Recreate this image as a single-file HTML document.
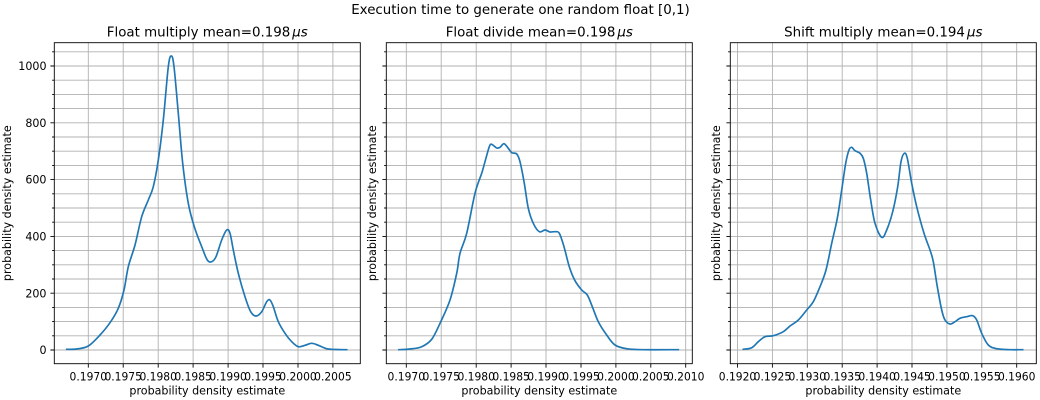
<!DOCTYPE html>
<html><head><meta charset="utf-8"><style>
html,body{margin:0;padding:0;background:#fff;}
svg{display:block;font-family:"DejaVu Sans","Liberation Sans",sans-serif;}
</style></head><body>
<svg id="fig" width="1040" height="400" viewBox="0 0 1040 400" xmlns="http://www.w3.org/2000/svg">
<defs>
<g id="hg" stroke="#b0b0b0" stroke-width="0.89" fill="none">
<path d="M0 350h306M0 335.8h306M0 321.6h306M0 307.4h306M0 293.2h306M0 279h306M0 264.8h306M0 250.6h306M0 236.4h306M0 222.2h306M0 208h306M0 193.8h306M0 179.6h306M0 165.4h306M0 151.2h306M0 137h306M0 122.8h306M0 108.6h306M0 94.4h306M0 80.2h306M0 66h306M0 51.8h306"/>
</g>
<g id="yt" stroke="#000" stroke-width="0.89" fill="none">
<path d="M0 350h-3.9M0 293.2h-3.9M0 236.4h-3.9M0 179.6h-3.9M0 122.8h-3.9M0 66h-3.9"/>
<path d="M0 335.8h-2.2M0 321.6h-2.2M0 307.4h-2.2M0 279h-2.2M0 264.8h-2.2M0 250.6h-2.2M0 222.2h-2.2M0 208h-2.2M0 193.8h-2.2M0 165.4h-2.2M0 151.2h-2.2M0 137h-2.2M0 108.6h-2.2M0 94.4h-2.2M0 80.2h-2.2M0 51.8h-2.2"/>
</g>
</defs>
<rect width="1040" height="400" fill="#fff"/>

<!-- titles -->
<text x="520.5" y="14.1" font-size="13.4" text-anchor="middle">Execution time to generate one random float [0,1)</text>
<text x="207.3" y="36.3" font-size="13.4" text-anchor="middle">Float multiply mean=0.198<tspan font-style="italic" dx="2">μs</tspan></text>
<text x="539.3" y="36.3" font-size="13.4" text-anchor="middle">Float divide mean=0.198<tspan font-style="italic" dx="2">μs</tspan></text>
<text x="883.3" y="36.3" font-size="13.4" text-anchor="middle">Shift multiply mean=0.194<tspan font-style="italic" dx="2">μs</tspan></text>

<!-- Panel 1 -->
<use href="#hg" x="54.3" y="0"/>
<path d="M88.3 42.7V363.7M123.2 42.7V363.7M158.2 42.7V363.7M193.1 42.7V363.7M228.1 42.7V363.7M263 42.7V363.7M298 42.7V363.7M332.9 42.7V363.7" stroke="#b0b0b0" stroke-width="0.89" fill="none"/>
<polyline class="c" fill="none" stroke="#1f77b4" stroke-width="1.67" stroke-linejoin="round" stroke-linecap="square" points="66.7,349.3 76.7,349 88.3,346 100,335 110,322.7 118.3,308.3 124,290 128.3,266.7 135,245 141.7,216.7 148.3,200 153.3,186.7 158.3,160 163.3,120 168.3,66.7 171.3,56 174,66.7 178.3,113.3 182.7,163.3 188.3,203.3 194.3,226.7 201.7,246.7 207.3,260 211.7,261.7 216,256.7 221.7,240 226.7,230 230,233.3 233.3,250 238.3,273.3 245,296.7 250.7,311.7 256,316 261.7,311.7 266.7,301.7 270,300 273.3,306.7 278.3,321.7 285,333.3 291.7,341.7 298.3,346.7 305,345.3 311.7,343.3 318.3,345.3 326.7,348.7 336,349.5 346.7,349.7"/>
<rect x="54.3" y="42.7" width="306" height="321" fill="none" stroke="#000" stroke-width="0.89"/>
<use href="#yt" x="54.3" y="0"/>
<path d="M88.3 363.7v3.9M123.2 363.7v3.9M158.2 363.7v3.9M193.1 363.7v3.9M228.1 363.7v3.9M263 363.7v3.9M298 363.7v3.9M332.9 363.7v3.9" stroke="#000" stroke-width="0.89"/>
<g font-size="11.1" text-anchor="end">
<text x="46.5" y="354.05">0</text>
<text x="46.5" y="297.25">200</text>
<text x="46.5" y="240.45">400</text>
<text x="46.5" y="183.65">600</text>
<text x="46.5" y="126.85">800</text>
<text x="46.5" y="70.05">1000</text>
</g>
<g font-size="11.1" text-anchor="middle">
<text x="88.3" y="380.5" textLength="37.5" lengthAdjust="spacingAndGlyphs">0.1970</text>
<text x="123.2" y="380.5" textLength="37.5" lengthAdjust="spacingAndGlyphs">0.1975</text>
<text x="158.2" y="380.5" textLength="37.5" lengthAdjust="spacingAndGlyphs">0.1980</text>
<text x="193.1" y="380.5" textLength="37.5" lengthAdjust="spacingAndGlyphs">0.1985</text>
<text x="228.1" y="380.5" textLength="37.5" lengthAdjust="spacingAndGlyphs">0.1990</text>
<text x="263" y="380.5" textLength="37.5" lengthAdjust="spacingAndGlyphs">0.1995</text>
<text x="298" y="380.5" textLength="37.5" lengthAdjust="spacingAndGlyphs">0.2000</text>
<text x="332.9" y="380.5" textLength="37.5" lengthAdjust="spacingAndGlyphs">0.2005</text>
<text x="207.3" y="394.5">probability density estimate</text>
<text transform="translate(10.8,203.2) rotate(-90)">probability density estimate</text>
</g>

<!-- Panel 2 -->
<use href="#hg" x="386.3" y="0"/>
<path d="M406.3 42.7V363.7M441.2 42.7V363.7M476.2 42.7V363.7M511.1 42.7V363.7M546 42.7V363.7M581 42.7V363.7M615.9 42.7V363.7M650.8 42.7V363.7M685.7 42.7V363.7" stroke="#b0b0b0" stroke-width="0.89" fill="none"/>
<polyline class="c" fill="none" stroke="#1f77b4" stroke-width="1.67" stroke-linejoin="round" stroke-linecap="square" points="399,349.7 410,349 421.7,346.7 431.7,339.3 440,323.3 450,300 456.7,273.3 460,253.3 466.7,233.3 475,193.3 481.7,173.3 485,161.7 489.3,146.7 491.7,144.3 496.7,148 500,147.3 504,143.7 508.3,148.3 511.7,152.7 516.7,154 520,161.7 524.3,183.3 528.3,208.3 533.3,223.3 539.3,231.7 545,230 550,232 555,231.7 559.3,233.3 564,246.7 569.3,266.7 575,280.7 581.7,290 587.3,295 592.3,306.7 598.3,321.7 606.7,335 615,345 626.7,348.7 643.3,349.7 678.3,349.7"/>
<rect x="386.3" y="42.7" width="306" height="321" fill="none" stroke="#000" stroke-width="0.89"/>
<use href="#yt" x="386.3" y="0"/>
<path d="M406.3 363.7v3.9M441.2 363.7v3.9M476.2 363.7v3.9M511.1 363.7v3.9M546 363.7v3.9M581 363.7v3.9M615.9 363.7v3.9M650.8 363.7v3.9M685.7 363.7v3.9" stroke="#000" stroke-width="0.89"/>
<g font-size="11.1" text-anchor="middle">
<text x="406.3" y="380.5" textLength="37.5" lengthAdjust="spacingAndGlyphs">0.1970</text>
<text x="441.2" y="380.5" textLength="37.5" lengthAdjust="spacingAndGlyphs">0.1975</text>
<text x="476.2" y="380.5" textLength="37.5" lengthAdjust="spacingAndGlyphs">0.1980</text>
<text x="511.1" y="380.5" textLength="37.5" lengthAdjust="spacingAndGlyphs">0.1985</text>
<text x="546" y="380.5" textLength="37.5" lengthAdjust="spacingAndGlyphs">0.1990</text>
<text x="581" y="380.5" textLength="37.5" lengthAdjust="spacingAndGlyphs">0.1995</text>
<text x="615.9" y="380.5" textLength="37.5" lengthAdjust="spacingAndGlyphs">0.2000</text>
<text x="650.8" y="380.5" textLength="37.5" lengthAdjust="spacingAndGlyphs">0.2005</text>
<text x="685.7" y="380.5" textLength="37.5" lengthAdjust="spacingAndGlyphs">0.2010</text>
<text x="539.3" y="394.5">probability density estimate</text>
<text transform="translate(375.8,203.2) rotate(-90)">probability density estimate</text>
</g>

<!-- Panel 3 -->
<use href="#hg" x="730.3" y="0"/>
<path d="M737.5 42.7V363.7M772.4 42.7V363.7M807.3 42.7V363.7M842.2 42.7V363.7M877.1 42.7V363.7M912 42.7V363.7M946.9 42.7V363.7M981.8 42.7V363.7M1016.7 42.7V363.7" stroke="#b0b0b0" stroke-width="0.89" fill="none"/>
<polyline class="c" fill="none" stroke="#1f77b4" stroke-width="1.67" stroke-linejoin="round" stroke-linecap="square" points="743.3,349.3 751.7,347.7 758.3,341.7 765,336.7 773.3,335.7 783.3,331.7 790,326 798.3,320 806.7,310 813.3,301.7 820,286.7 826,270 831.7,243.3 837.3,218.3 841.7,190 845.7,163.3 849,150 851.7,147.3 855,150.7 860,153.3 863.3,158.3 866.7,173.3 870.7,200 875,223.3 881.7,237.3 886.7,230 892.7,211.7 897.7,186.7 901,161.7 904.3,153.3 907.3,158.3 911.7,183.3 916.7,206.7 924,233.3 930,250 933.3,261.7 937.3,286.7 941.7,310 945,320 950,324 955,321.7 960,318.3 966.7,316.7 972.7,315.7 976.7,320 981.7,333.3 988.3,345 996.7,348.7 1010,349.7 1022.7,349.7"/>
<rect x="730.3" y="42.7" width="306" height="321" fill="none" stroke="#000" stroke-width="0.89"/>
<use href="#yt" x="730.3" y="0"/>
<path d="M737.5 363.7v3.9M772.4 363.7v3.9M807.3 363.7v3.9M842.2 363.7v3.9M877.1 363.7v3.9M912 363.7v3.9M946.9 363.7v3.9M981.8 363.7v3.9M1016.7 363.7v3.9" stroke="#000" stroke-width="0.89"/>
<g font-size="11.1" text-anchor="middle">
<text x="737.5" y="380.5" textLength="37.5" lengthAdjust="spacingAndGlyphs">0.1920</text>
<text x="772.4" y="380.5" textLength="37.5" lengthAdjust="spacingAndGlyphs">0.1925</text>
<text x="807.3" y="380.5" textLength="37.5" lengthAdjust="spacingAndGlyphs">0.1930</text>
<text x="842.2" y="380.5" textLength="37.5" lengthAdjust="spacingAndGlyphs">0.1935</text>
<text x="877.1" y="380.5" textLength="37.5" lengthAdjust="spacingAndGlyphs">0.1940</text>
<text x="912" y="380.5" textLength="37.5" lengthAdjust="spacingAndGlyphs">0.1945</text>
<text x="946.9" y="380.5" textLength="37.5" lengthAdjust="spacingAndGlyphs">0.1950</text>
<text x="981.8" y="380.5" textLength="37.5" lengthAdjust="spacingAndGlyphs">0.1955</text>
<text x="1016.7" y="380.5" textLength="37.5" lengthAdjust="spacingAndGlyphs">0.1960</text>
<text x="883.3" y="394.5">probability density estimate</text>
<text transform="translate(719.8,203.2) rotate(-90)">probability density estimate</text>
</g>
</svg>
<script>
(function(){
  var ns="http://www.w3.org/2000/svg";
  var pls=document.querySelectorAll("polyline.c");
  for(var k=0;k<pls.length;k++){
    var pl=pls[k];
    var pts=pl.getAttribute("points").trim().split(/\s+/).map(function(p){return p.split(",").map(Number);});
    var n=pts.length;
    var d="M"+pts[0][0]+","+pts[0][1];
    for(var i=0;i<n-1;i++){
      var p0=pts[i>0?i-1:i],p1=pts[i],p2=pts[i+1],p3=pts[i+2<n?i+2:i+1];
      var c1x=p1[0]+(p2[0]-p0[0])/6,c1y=p1[1]+(p2[1]-p0[1])/6;
      var c2x=p2[0]-(p3[0]-p1[0])/6,c2y=p2[1]-(p3[1]-p1[1])/6;
      d+="C"+c1x.toFixed(2)+","+c1y.toFixed(2)+" "+c2x.toFixed(2)+","+c2y.toFixed(2)+" "+p2[0]+","+p2[1];
    }
    var path=document.createElementNS(ns,"path");
    path.setAttribute("d",d);
    path.setAttribute("fill","none");
    path.setAttribute("stroke","#1f77b4");
    path.setAttribute("stroke-width","1.67");
    path.setAttribute("stroke-linejoin","round");
    path.setAttribute("stroke-linecap","square");
    pl.parentNode.replaceChild(path,pl);
  }
})();
</script>
</body></html>
